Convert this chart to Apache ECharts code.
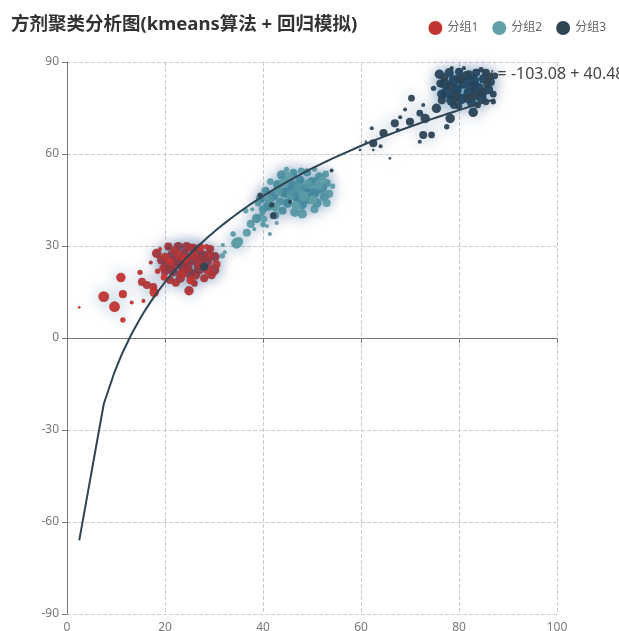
<!DOCTYPE html>
<html>
<head>
<meta charset="utf-8">
<script src="https://cdn.jsdelivr.net/npm/echarts@6/dist/echarts.min.js"></script>
<style>
  html, body { margin: 0; padding: 0; background: #fff; }
  #main { width: 619px; height: 631px; }
</style>
</head>
<body>
<div id="main"></div>
<script>
// Cluster members: [x, y, weight]; weight drives the bubble size
const group1 = [
  [2.5, 10.0, 2], [7.5, 13.5, 8], [9.7, 10.2, 8], [11.4, 14.3, 6], [11.0, 19.7, 7],
  [11.4, 5.9, 4], [13.2, 11.6, 3], [15.6, 12.1, 3], [14.9, 21.4, 4], [17.1, 24.6, 3],
  [18.3, 27.6, 7], [15.3, 18.3, 6], [16.3, 17.3, 6], [17.6, 16.6, 6], [17.8, 14.9, 7],
  [20.6, 29.4, 3], [24.9, 15.4, 7], [26.0, 17.8, 5], [30.0, 22.2, 8], [30.2, 26.5, 7],
  [20.7, 29.8, 6], [22.7, 29.8, 7], [24.4, 29.8, 7], [25.8, 29.2, 7], [21.4, 27.1, 7],
  [19.3, 25.4, 7], [20.3, 23.3, 7], [22.4, 25.4, 8], [21.7, 21.6, 7], [23.7, 23.3, 8],
  [25.1, 21.1, 8], [23.1, 19.5, 7], [21.0, 18.9, 6], [20.0, 21.6, 6], [26.5, 28.5, 7],
  [27.8, 27.0, 7], [28.5, 24.8, 8], [29.2, 29.0, 6], [27.0, 22.5, 8], [25.5, 25.5, 8],
  [24.0, 27.5, 7], [23.0, 24.8, 8], [26.2, 20.5, 7], [28.0, 19.5, 6], [29.5, 20.5, 6],
  [22.2, 18.0, 6], [21.5, 23.5, 7], [24.5, 23.0, 8], [23.5, 21.0, 7], [19.5, 22.8, 5],
  [18.5, 21.8, 4], [27.5, 25.8, 7], [25.0, 29.5, 6], [22.0, 28.5, 6], [20.0, 26.5, 6],
  [29.0, 26.8, 7], [30.5, 24.0, 6], [26.8, 24.0, 7], [19.0, 29.0, 3], [28.5, 29.8, 4],
  [22.8, 27.0, 7], [26.0, 26.8, 7], [24.2, 25.8, 7], [27.2, 29.5, 6], [21.0, 25.0, 6],
  [19.8, 19.8, 5], [28.8, 22.0, 7], [25.2, 18.8, 6]
];
const group2 = [
  [31.8, 30.3, 3], [31.7, 26.8, 4], [33.9, 33.9, 4], [34.6, 30.9, 8], [32.2, 28.0, 3],
  [35.0, 31.4, 7], [36.7, 34.3, 6], [41.4, 33.9, 3], [38.7, 39.0, 7], [37.5, 37.2, 6],
  [38.2, 35.5, 3], [40.0, 37.0, 4], [39.5, 45.5, 7], [40.5, 48.0, 6], [41.0, 43.0, 7],
  [42.0, 46.5, 8], [43.0, 50.0, 7], [43.8, 53.2, 7], [44.5, 47.5, 8], [45.0, 44.0, 7],
  [46.2, 53.9, 6], [46.0, 49.5, 8], [47.0, 46.0, 8], [47.5, 51.5, 7], [48.0, 43.5, 7],
  [48.5, 48.5, 8], [49.0, 54.0, 6], [49.5, 45.5, 8], [50.0, 51.0, 7], [50.5, 47.5, 8],
  [51.0, 44.0, 7], [51.5, 52.5, 7], [52.0, 49.0, 8], [52.5, 46.0, 7], [53.0, 50.5, 6],
  [53.5, 47.0, 6], [52.8, 53.5, 5], [44.0, 41.5, 6], [46.5, 41.0, 7], [42.5, 40.0, 6],
  [40.0, 42.0, 6], [39.0, 44.0, 5], [41.5, 51.0, 5], [45.5, 51.5, 6], [48.0, 40.5, 7],
  [50.5, 42.0, 6], [53.0, 44.0, 6], [43.5, 44.5, 6], [47.8, 54.5, 5], [44.8, 55.0, 4],
  [39.8, 40.5, 4], [37.8, 42.0, 3], [42.8, 37.5, 3], [40.8, 36.5, 3], [54.2, 49.5, 4],
  [50.5, 55.0, 4], [36.5, 41.5, 4], [41.2, 45.2, 7], [43.2, 47.8, 7], [45.8, 46.8, 8],
  [47.2, 48.8, 8], [49.2, 50.2, 7], [51.2, 49.8, 7], [48.2, 46.2, 8], [46.8, 43.2, 7],
  [44.2, 50.5, 7], [42.5, 42.8, 7], [50.2, 45.0, 7], [52.2, 51.5, 6], [45.2, 53.0, 6],
  [40.2, 38.8, 5]
];
const group3 = [
  [28.0, 23.2, 6], [54.0, 54.6, 3], [41.8, 43.4, 4], [42.1, 39.9, 5], [39.4, 46.6, 4],
  [45.5, 44.4, 3], [59.8, 61.3, 2], [62.5, 63.5, 6], [62.2, 68.4, 3], [62.5, 61.3, 2],
  [64.6, 66.8, 6], [65.9, 58.6, 2], [66.9, 70.0, 6], [70.0, 70.5, 6], [72.0, 73.3, 5],
  [73.1, 71.6, 7], [72.7, 66.2, 6], [74.4, 66.2, 5], [72.0, 64.0, 3], [70.3, 78.2, 5],
  [72.7, 76.0, 3], [74.8, 81.4, 4], [75.4, 74.9, 7], [77.5, 68.9, 4], [78.2, 71.6, 7],
  [82.9, 73.6, 7], [68.0, 72.0, 3], [67.5, 67.8, 3], [61.0, 64.0, 2], [76.5, 79.5, 7],
  [64.0, 62.5, 3], [69.0, 74.5, 3], [76.0, 86.0, 7], [77.0, 83.0, 8], [77.5, 80.0, 8],
  [78.0, 86.5, 7], [78.5, 77.5, 8], [79.0, 84.0, 8], [79.5, 81.0, 8], [80.0, 86.8, 6],
  [80.5, 78.0, 8], [81.0, 83.0, 8], [81.5, 85.5, 7], [82.0, 80.0, 8], [82.5, 77.0, 7],
  [83.0, 84.0, 8], [83.5, 86.5, 6], [84.0, 81.5, 8], [84.5, 78.5, 8], [85.0, 84.5, 7],
  [85.5, 86.5, 6], [86.0, 81.0, 7], [86.5, 83.5, 6], [87.0, 79.5, 5], [87.3, 85.5, 5],
  [79.0, 76.0, 6], [83.8, 76.0, 5], [76.5, 77.5, 6], [80.0, 75.5, 5], [85.5, 77.0, 5],
  [81.0, 88.0, 3], [78.5, 88.0, 3], [84.5, 87.5, 4], [76.2, 83.0, 6], [87.0, 77.0, 4],
  [82.0, 86.0, 6], [78.0, 82.2, 7], [80.2, 84.5, 7], [82.8, 82.0, 7], [84.8, 80.0, 7],
  [86.2, 85.2, 6], [79.2, 78.8, 7], [81.8, 78.2, 7], [77.0, 85.0, 6], [83.2, 79.2, 7],
  [85.8, 82.8, 6]
];

const groupNames = ['分组1', '分组2', '分组3'];
const groupColors = ['#c23531', '#61a0a8', '#2f4554'];

// Logarithmic fit y = a + b ln(x)
const fitA = -103.08;
const fitB = 40.48;
const fitExpression = 'y = ' + fitA + ' + ' + fitB + 'ln(x)';

const xTicks = { min: 0, max: 100, interval: 20 };
const yTicks = { min: -90, max: 90, interval: 30 };

// fitted curve evaluated at every observed x, in ascending order
const allX = group1.concat(group2, group3).map(p => p[0]).sort((a, b) => a - b);
const fitPoints = allX.map(x => [x, fitA + fitB * Math.log(x)]);
const lastFit = fitPoints[fitPoints.length - 1];

const chart = echarts.init(document.getElementById('main'));
const font = "'Noto Sans', 'Noto Sans CJK SC', sans-serif";

const scatterSeries = [group1, group2, group3].map((d, i) => ({
  name: groupNames[i],
  type: 'scatter',
  data: d,
  symbolSize: v => v[2] * 1.35,
  itemStyle: {
    color: groupColors[i],
    opacity: 0.95,
    shadowBlur: 15,
    shadowColor: 'rgba(25, 100, 150, 0.5)'
  },
  z: 2
}));

chart.setOption({
  animation: false,
  color: groupColors,
  textStyle: { fontFamily: font },
  title: {
    text: '方剂聚类分析图(kmeans算法 + 回归模拟)',
    left: 6,
    top: 10,
    textStyle: { fontSize: 18.5, fontWeight: 'bold', color: '#333', fontFamily: font }
  },
  legend: {
    data: groupNames.map((n, i) => ({
      name: n,
      itemStyle: { color: groupColors[i], opacity: 1, shadowBlur: 0 }
    })),
    icon: 'circle',
    itemWidth: 14,
    itemHeight: 14,
    itemGap: 14,
    right: 8,
    top: 16,
    textStyle: { color: '#666', fontSize: 12 }
  },
  grid: { left: 67, right: 62, top: 62, bottom: 17, outerBoundsMode: 'none', containLabel: false },
  xAxis: [
    {
      type: 'value',
      min: xTicks.min, max: xTicks.max, interval: xTicks.interval,
      position: 'bottom',
      axisLine: { show: false, onZero: false },
      axisTick: { show: false },
      axisLabel: { color: '#777', fontSize: 12 },
      splitLine: { lineStyle: { type: 'dashed', color: '#ccc' } }
    },
    {
      type: 'value',
      min: xTicks.min, max: xTicks.max, interval: xTicks.interval,
      position: 'bottom',
      axisLine: { onZero: true, lineStyle: { color: '#777' } },
      axisTick: { lineStyle: { color: '#777' } },
      axisLabel: { show: false },
      splitLine: { show: false }
    }
  ],
  yAxis: {
    type: 'value',
    min: yTicks.min, max: yTicks.max, interval: yTicks.interval,
    axisLine: { show: true, onZero: false, lineStyle: { color: '#777' } },
    axisTick: { show: true, lineStyle: { color: '#777' } },
    axisLabel: { color: '#777', fontSize: 12 },
    splitLine: { lineStyle: { type: 'dashed', color: '#ccc' } }
  },
  series: scatterSeries.concat([{
    name: 'line',
    type: 'line',
    data: fitPoints,
    showSymbol: false,
    symbol: 'none',
    smooth: false,
    lineStyle: { color: '#2f4554', width: 2 },
    z: 3,
    markPoint: {
      symbol: 'circle',
      symbolSize: 1,
      itemStyle: { color: 'transparent' },
      label: {
        show: true,
        position: 'right',
        offset: [-15, -25],
        formatter: fitExpression,
        color: '#444',
        fontSize: 16,
        fontFamily: font
      },
      data: [{ coord: lastFit }]
    }
  }])
});
</script>
</body>
</html>
